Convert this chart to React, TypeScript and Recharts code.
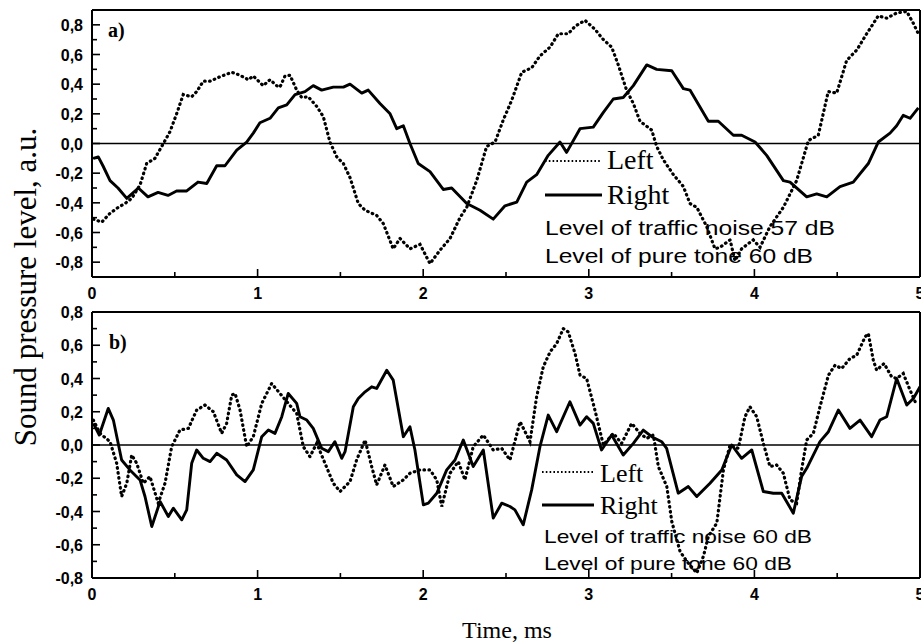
import React from 'react';
import { LineChart, Line, XAxis, YAxis, ReferenceLine } from 'recharts';

// Panel a) — [time ms, level a.u.]
const rightA: [number, number][] = [
  [0.008,-0.10],[0.038,-0.09],[0.066,-0.15],[0.109,-0.25],[0.157,-0.30],[0.210,-0.37],[0.280,-0.30],[0.338,-0.36],[0.399,-0.33],[0.459,-0.35],[0.511,-0.32],[0.572,-0.32],[0.640,-0.26],[0.693,-0.27],[0.753,-0.15],[0.803,-0.15],[0.874,-0.045],[0.934,0.01],[0.974,0.07],[1.014,0.14],[1.075,0.17],[1.125,0.24],[1.176,0.26],[1.226,0.33],[1.286,0.35],[1.336,0.39],[1.387,0.36],[1.457,0.38],[1.518,0.38],[1.558,0.40],[1.629,0.34],[1.668,0.36],[1.739,0.27],[1.800,0.20],[1.840,0.10],[1.880,0.12],[1.920,0.0],[1.970,-0.135],[2.041,-0.19],[2.121,-0.31],[2.172,-0.30],[2.263,-0.405],[2.343,-0.45],[2.423,-0.51],[2.494,-0.42],[2.565,-0.395],[2.625,-0.26],[2.685,-0.21],[2.755,-0.08],[2.826,0.01],[2.866,-0.06],[2.947,0.10],[3.027,0.11],[3.088,0.21],[3.148,0.30],[3.208,0.31],[3.269,0.39],[3.350,0.53],[3.410,0.50],[3.501,0.49],[3.571,0.37],[3.611,0.36],[3.722,0.15],[3.782,0.15],[3.873,0.056],[3.923,0.056],[4.004,0.01],[4.074,-0.08],[4.175,-0.25],[4.215,-0.26],[4.316,-0.36],[4.376,-0.34],[4.437,-0.36],[4.517,-0.29],[4.597,-0.26],[4.688,-0.135],[4.748,0.01],[4.819,0.07],[4.859,0.12],[4.899,0.19],[4.940,0.17],[4.990,0.24]
];
const leftA: [number, number][] = [
  [0.008,-0.51],[0.059,-0.53],[0.109,-0.47],[0.159,-0.43],[0.199,-0.405],[0.240,-0.37],[0.290,-0.28],[0.330,-0.135],[0.380,-0.10],[0.431,0.0],[0.471,0.08],[0.511,0.20],[0.551,0.33],[0.602,0.315],[0.632,0.35],[0.672,0.42],[0.713,0.42],[0.773,0.45],[0.844,0.48],[0.894,0.46],[0.944,0.43],[0.974,0.455],[1.034,0.39],[1.075,0.43],[1.115,0.39],[1.135,0.38],[1.165,0.455],[1.196,0.46],[1.236,0.36],[1.266,0.31],[1.306,0.315],[1.357,0.25],[1.397,0.18],[1.437,0.01],[1.478,-0.09],[1.518,-0.135],[1.558,-0.23],[1.608,-0.405],[1.649,-0.45],[1.719,-0.485],[1.759,-0.54],[1.819,-0.71],[1.860,-0.64],[1.920,-0.71],[1.981,-0.68],[2.041,-0.81],[2.101,-0.72],[2.162,-0.64],[2.222,-0.50],[2.263,-0.43],[2.323,-0.25],[2.383,-0.02],[2.434,0.01],[2.484,0.16],[2.534,0.29],[2.595,0.48],[2.655,0.51],[2.705,0.59],[2.766,0.65],[2.816,0.74],[2.876,0.74],[2.917,0.79],[2.977,0.83],[3.037,0.77],[3.088,0.70],[3.138,0.65],[3.178,0.53],[3.228,0.36],[3.269,0.27],[3.309,0.15],[3.380,0.09],[3.410,-0.02],[3.450,-0.11],[3.511,-0.21],[3.571,-0.29],[3.611,-0.405],[3.652,-0.43],[3.712,-0.56],[3.762,-0.71],[3.792,-0.70],[3.853,-0.65],[3.883,-0.79],[3.923,-0.71],[3.993,-0.65],[4.034,-0.70],[4.094,-0.56],[4.175,-0.43],[4.255,-0.25],[4.326,0.02],[4.386,0.056],[4.446,0.35],[4.497,0.34],[4.557,0.56],[4.618,0.63],[4.678,0.74],[4.748,0.86],[4.799,0.845],[4.859,0.88],[4.920,0.89],[4.960,0.81],[4.990,0.74]
];

// Panel b)
const rightB: [number, number][] = [
  [0.008,0.13],[0.044,0.06],[0.098,0.22],[0.129,0.15],[0.179,-0.09],[0.229,-0.15],[0.290,-0.21],[0.320,-0.31],[0.361,-0.49],[0.411,-0.34],[0.461,-0.43],[0.491,-0.38],[0.542,-0.45],[0.572,-0.39],[0.602,-0.11],[0.632,-0.03],[0.672,-0.08],[0.713,-0.10],[0.753,-0.05],[0.813,-0.09],[0.874,-0.18],[0.924,-0.22],[0.974,-0.15],[1.025,0.05],[1.065,0.09],[1.105,0.07],[1.146,0.17],[1.185,0.31],[1.236,0.25],[1.256,0.17],[1.297,0.15],[1.336,0.10],[1.387,-0.02],[1.427,-0.04],[1.467,0.02],[1.508,-0.08],[1.528,-0.04],[1.578,0.23],[1.608,0.28],[1.649,0.32],[1.689,0.35],[1.719,0.34],[1.780,0.45],[1.819,0.39],[1.880,0.05],[1.920,0.11],[1.950,-0.03],[2.001,-0.36],[2.031,-0.35],[2.082,-0.29],[2.142,-0.15],[2.192,-0.09],[2.242,0.03],[2.302,-0.13],[2.363,-0.03],[2.423,-0.44],[2.474,-0.35],[2.524,-0.37],[2.554,-0.39],[2.604,-0.48],[2.655,-0.27],[2.705,-0.01],[2.755,0.18],[2.806,0.08],[2.886,0.26],[2.947,0.12],[2.987,0.17],[3.027,0.13],[3.077,-0.03],[3.138,0.06],[3.208,-0.06],[3.269,0.01],[3.329,0.09],[3.380,0.05],[3.440,0.02],[3.470,-0.02],[3.540,-0.29],[3.601,-0.25],[3.652,-0.31],[3.732,-0.23],[3.803,-0.15],[3.863,0.0],[3.923,-0.08],[3.984,-0.03],[4.054,-0.28],[4.114,-0.29],[4.165,-0.29],[4.235,-0.41],[4.285,-0.19],[4.316,-0.14],[4.396,0.02],[4.447,0.08],[4.507,0.21],[4.577,0.10],[4.638,0.15],[4.708,0.05],[4.758,0.15],[4.799,0.17],[4.859,0.40],[4.920,0.24],[4.960,0.28],[5.0,0.35]
];
const leftB: [number, number][] = [
  [0.008,0.15],[0.048,0.07],[0.109,0.02],[0.149,-0.11],[0.179,-0.31],[0.210,-0.23],[0.240,-0.06],[0.270,-0.11],[0.310,-0.23],[0.350,-0.19],[0.400,-0.35],[0.441,-0.23],[0.481,-0.01],[0.531,0.09],[0.582,0.10],[0.632,0.21],[0.682,0.24],[0.733,0.20],[0.783,0.07],[0.813,0.13],[0.844,0.30],[0.864,0.31],[0.894,0.21],[0.934,-0.01],[0.974,0.05],[1.025,0.25],[1.085,0.37],[1.135,0.31],[1.185,0.25],[1.236,0.19],[1.276,-0.01],[1.316,-0.07],[1.357,0.01],[1.407,-0.11],[1.457,-0.23],[1.498,-0.28],[1.558,-0.22],[1.598,-0.09],[1.649,0.03],[1.689,-0.13],[1.719,-0.24],[1.769,-0.12],[1.819,-0.25],[1.880,-0.21],[1.920,-0.17],[1.981,-0.15],[2.041,-0.15],[2.082,-0.21],[2.112,-0.37],[2.162,-0.17],[2.212,-0.10],[2.252,-0.21],[2.302,-0.01],[2.363,0.06],[2.423,-0.03],[2.474,-0.02],[2.524,-0.09],[2.585,0.14],[2.645,0.02],[2.685,0.29],[2.725,0.47],[2.766,0.56],[2.806,0.61],[2.846,0.70],[2.876,0.68],[2.917,0.55],[2.947,0.42],[2.987,0.40],[3.037,0.21],[3.088,0.0],[3.148,0.07],[3.198,0.01],[3.259,0.13],[3.309,0.07],[3.350,0.04],[3.390,0.06],[3.420,-0.13],[3.471,-0.25],[3.501,-0.46],[3.551,-0.64],[3.592,-0.70],[3.652,-0.77],[3.692,-0.67],[3.722,-0.55],[3.773,-0.47],[3.813,-0.15],[3.853,0.0],[3.903,-0.02],[3.943,0.17],[3.973,0.23],[4.014,0.17],[4.054,0.01],[4.094,-0.13],[4.134,-0.12],[4.175,-0.17],[4.215,-0.33],[4.255,-0.35],[4.285,-0.15],[4.316,0.03],[4.356,0.07],[4.396,0.23],[4.447,0.42],[4.487,0.48],[4.527,0.46],[4.577,0.52],[4.618,0.54],[4.668,0.65],[4.688,0.67],[4.718,0.51],[4.738,0.45],[4.783,0.49],[4.829,0.41],[4.859,0.40],[4.899,0.43],[4.940,0.33],[4.980,0.24]
];

const xTicks = [0, 0.5, 1, 1.5, 2, 2.5, 3, 3.5, 4, 4.5, 5];
const yTicks = [-0.8, -0.7, -0.6, -0.5, -0.4, -0.3, -0.2, -0.1, 0, 0.1, 0.2, 0.3, 0.4, 0.5, 0.6, 0.7, 0.8];
const domainA: [number, number] = [-0.9, 0.9];
const domainB: [number, number] = [-0.8, 0.8];

const panelLabels = ['a)', 'b)'];
const seriesNames = ['Left', 'Right'];
const notesA = ['Level of traffic noise 57 dB', 'Level of pure tone 60 dB'];
const notesB = ['Level of traffic noise 60 dB', 'Level of pure tone 60 dB'];
const yTitle = 'Sound pressure level, a.u.';
const xTitle = 'Time, ms';

const SANS = "'Liberation Sans', Arial, Helvetica, sans-serif";
const SERIF = "'Liberation Serif', 'Times New Roman', Times, serif";

const toData = (arr: [number, number][]) => arr.map(([t, v]) => ({ t, v }));

const XTick = (props: any) => {
  const { x, y, payload } = props;
  const v = payload.value as number;
  const major = Math.abs(v - Math.round(v)) < 1e-6;
  return (
    <g>
      <line x1={x} x2={x} y1={y} y2={y - (major ? 8 : 5)} stroke="#000" strokeWidth={1.6} />
      {major && (
        <text x={x} y={y + 22} textAnchor="middle" fontFamily={SANS} fontWeight="bold" fontSize={16} fill="#000">
          {String(Math.round(v))}
        </text>
      )}
    </g>
  );
};

const YTick = (props: any) => {
  const { x, y, payload } = props;
  const v = payload.value as number;
  const major = Math.abs(v * 5 - Math.round(v * 5)) < 1e-6;
  return (
    <g>
      <line x1={x} x2={x + (major ? 8 : 5)} y1={y} y2={y} stroke="#000" strokeWidth={1.6} />
      {major && (
        <text x={x - 9} y={y + 6} textAnchor="end" fontFamily={SANS} fontWeight="bold" fontSize={16} fill="#000">
          {v.toFixed(1).replace('.', ',')}
        </text>
      )}
    </g>
  );
};

const Panel = (p: { left: [number, number][]; right: [number, number][]; domain: [number, number]; height: number; top: number; xh: number }) => (
  <LineChart width={921} height={p.height} margin={{ top: p.top, right: 1, left: 0, bottom: 0 }}>
    <XAxis
      dataKey="t"
      type="number"
      domain={[0, 5]}
      ticks={xTicks}
      interval={0}
      allowDataOverflow
      height={p.xh}
      tickSize={0}
      tickMargin={0}
      tickLine={false}
      tick={XTick}
      axisLine={{ stroke: '#000', strokeWidth: 2 }}
    />
    <YAxis
      type="number"
      domain={p.domain}
      ticks={yTicks}
      interval={0}
      allowDataOverflow
      width={92}
      tickSize={0}
      tickMargin={0}
      tickLine={false}
      tick={YTick}
      axisLine={{ stroke: '#000', strokeWidth: 2 }}
    />
    <ReferenceLine y={0} stroke="#000" strokeWidth={1.6} />
    <ReferenceLine y={p.domain[1]} stroke="#000" strokeWidth={2} />
    <ReferenceLine x={5} stroke="#000" strokeWidth={2} />
    <Line
      data={toData(p.left)}
      dataKey="v"
      type="linear"
      stroke="#000"
      strokeWidth={3.2}
      strokeDasharray="0.6 4.4"
      strokeLinecap="round"
      dot={false}
      isAnimationActive={false}
    />
    <Line
      data={toData(p.right)}
      dataKey="v"
      type="linear"
      stroke="#000"
      strokeWidth={2.9}
      strokeLinejoin="round"
      dot={false}
      isAnimationActive={false}
    />
  </LineChart>
);

export default function App() {
  return (
    <div style={{ position: 'absolute', left: 0, top: 0, width: 921, height: 643, background: '#fff', overflow: 'hidden' }}>
      <div style={{ position: 'absolute', left: 0, top: 0 }}>
        <Panel left={leftA} right={rightA} domain={domainA} height={310} top={10} xh={33} />
      </div>
      <div style={{ position: 'absolute', left: 0, top: 300 }}>
        <Panel left={leftB} right={rightB} domain={domainB} height={343} top={12} xh={65} />
      </div>
      <svg width={921} height={643} style={{ position: 'absolute', left: 0, top: 0, pointerEvents: 'none' }}>
        <text x={108} y={37} fontFamily={SERIF} fontWeight="bold" fontSize={20} fill="#000">{panelLabels[0]}</text>
        <text x={109} y={349} fontFamily={SERIF} fontWeight="bold" fontSize={20} fill="#000">{panelLabels[1]}</text>

        {/* legend a */}
        <line x1={545} x2={602} y1={161} y2={161} stroke="#000" strokeWidth={2.2} strokeDasharray="1.6 2.2" />
        <text x={607} y={169} fontFamily={SERIF} fontSize={28} fill="#000">{seriesNames[0]}</text>
        <line x1={545} x2={602} y1={195} y2={195} stroke="#000" strokeWidth={3} />
        <text x={607} y={204} fontFamily={SERIF} fontSize={28} fill="#000">{seriesNames[1]}</text>
        <text x={545} y={235} fontFamily={SANS} fontSize={21} fill="#000" textLength={290} lengthAdjust="spacingAndGlyphs">{notesA[0]}</text>
        <text x={545} y={263} fontFamily={SANS} fontSize={21} fill="#000" textLength={268} lengthAdjust="spacingAndGlyphs">{notesA[1]}</text>

        {/* legend b */}
        <line x1={542} x2={594} y1={472} y2={472} stroke="#000" strokeWidth={2.2} strokeDasharray="1.6 2.2" />
        <text x={600} y={482} fontFamily={SERIF} fontSize={26} fill="#000">{seriesNames[0]}</text>
        <line x1={542} x2={594} y1={505} y2={505} stroke="#000" strokeWidth={3} />
        <text x={600} y={514} fontFamily={SERIF} fontSize={26} fill="#000">{seriesNames[1]}</text>
        <text x={544} y={543} fontFamily={SANS} fontSize={19} fill="#000" textLength={268} lengthAdjust="spacingAndGlyphs">{notesB[0]}</text>
        <text x={544} y={570} fontFamily={SANS} fontSize={19} fill="#000" textLength={248} lengthAdjust="spacingAndGlyphs">{notesB[1]}</text>

        {/* axis titles */}
        <text x={0} y={0} transform="translate(36 287) rotate(-90)" textAnchor="middle" fontFamily={SERIF} fontSize={31} fill="#000">{yTitle}</text>
        <text x={507} y={638} textAnchor="middle" fontFamily={SERIF} fontSize={24} fill="#000">{xTitle}</text>
      </svg>
    </div>
  );
}
